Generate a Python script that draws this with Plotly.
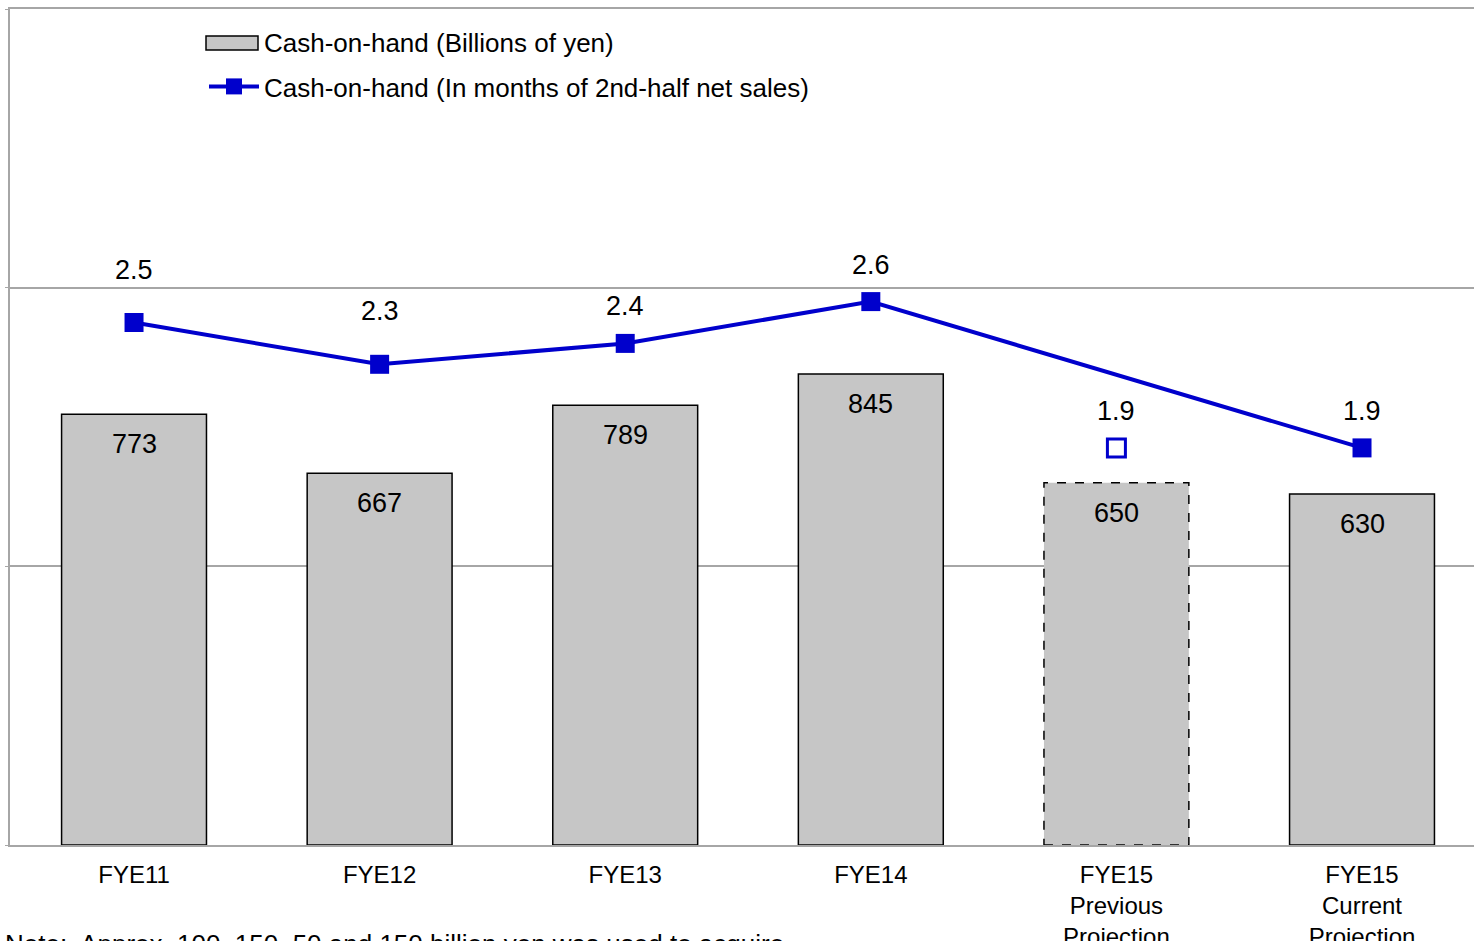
import plotly.graph_objects as go

# Categories and values
categories = ["FYE11", "FYE12", "FYE13", "FYE14",
              "FYE15<br>Previous<br>Projection", "FYE15<br>Current<br>Projection"]
cash_billion_yen = [773, 667, 789, 845, 650, 630]
cash_months = [2.5, 2.3, 2.4, 2.6, 1.9, 1.9]
projection_flags = [False, False, False, False, True, False]  # previous-projection column

# Label offsets above the line markers (px)
month_label_shift = [53, 53, 37, 37, 37, 37]

FONT = "Liberation Sans, Arial, sans-serif"
BLUE = "#0000CC"
GRID = "#A6A6A6"
BAR_FILL = "#C6C6C6"
BAR_WIDTH = 0.59

W, H = 1474, 941
M_L, M_R, M_T, M_B = 10, 0, 9, 96
plot_w = W - M_L - M_R
plot_h = H - M_T - M_B


def paper_x(px):
    return (px - M_L) / plot_w


def paper_y(px):
    return (H - M_B - px) / plot_h


fig = go.Figure()

# Bars (previous projection drawn without solid outline, dashed outline added as a shape)
bar_line_widths = [0 if f else 1.5 for f in projection_flags]
fig.add_trace(go.Bar(
    x=categories, y=cash_billion_yen, width=BAR_WIDTH,
    marker=dict(color=BAR_FILL, line=dict(color="black", width=bar_line_widths)),
    name="Cash-on-hand (Billions of yen)", showlegend=False,
    hoverinfo="skip",
))

# Legend entry for the bars (swatch drawn as a wide rectangle below)
fig.add_trace(go.Scatter(
    x=[None], y=[None], mode="markers",
    marker=dict(size=1, color="rgba(0,0,0,0)"),
    name="Cash-on-hand (Billions of yen)", legend="legend",
    hoverinfo="skip",
))

# Line: connects actuals and the current projection, skipping the previous projection
line_x = [c for c, f in zip(categories, projection_flags) if not f]
line_y = [v for v, f in zip(cash_months, projection_flags) if not f]
fig.add_trace(go.Scatter(
    x=line_x, y=line_y, yaxis="y2", mode="lines+markers",
    line=dict(color=BLUE, width=4),
    marker=dict(symbol="square", size=19, color=BLUE),
    name="Cash-on-hand (In months of 2nd-half net sales)", legend="legend2",
    hoverinfo="skip",
))

# Hollow marker for the previous projection
prev_x = [c for c, f in zip(categories, projection_flags) if f]
prev_y = [v for v, f in zip(cash_months, projection_flags) if f]
fig.add_trace(go.Scatter(
    x=prev_x, y=prev_y, yaxis="y2", mode="markers",
    marker=dict(symbol="square", size=18, color="white", line=dict(color=BLUE, width=3)),
    showlegend=False, hoverinfo="skip",
))

# Dashed outline around the previous-projection bar
for i, (v, f) in enumerate(zip(cash_billion_yen, projection_flags)):
    if f:
        fig.add_shape(type="rect", xref="x", yref="y",
                      x0=i - BAR_WIDTH / 2, x1=i + BAR_WIDTH / 2, y0=0, y1=v,
                      line=dict(color="black", width=1.5, dash="dash"),
                      fillcolor="rgba(0,0,0,0)", layer="above")

# Wide legend swatch for the bar series
fig.add_shape(type="rect", xref="paper", yref="paper",
              x0=paper_x(206), x1=paper_x(258), y0=paper_y(50), y1=paper_y(36),
              line=dict(color="black", width=1.5), fillcolor=BAR_FILL, layer="above")

annotations = []
for c, v in zip(categories, cash_billion_yen):
    annotations.append(dict(x=c, y=v, xref="x", yref="y", text=str(v), showarrow=False,
                            yshift=-30, font=dict(family=FONT, size=27, color="black")))
for c, v, s in zip(categories, cash_months, month_label_shift):
    annotations.append(dict(x=c, y=v, xref="x", yref="y2", text=f"{v:.1f}", showarrow=False,
                            yshift=s, font=dict(family=FONT, size=27, color="black")))

annotations.append(dict(
    x=paper_x(3), y=paper_y(927), xref="paper", yref="paper", xanchor="left", yanchor="top",
    text="Note:  Approx. 100, 150, 50 and 150 billion yen was used to acquire",
    showarrow=False, font=dict(family=FONT, size=26, color="black"),
))

fig.update_layout(
    width=W, height=H,
    margin=dict(l=M_L, r=M_R, t=M_T, b=M_B, pad=0),
    paper_bgcolor="white", plot_bgcolor="white",
    font=dict(family=FONT, color="black"),
    xaxis=dict(
        type="category", range=[-0.505, 5.456],
        showline=True, linecolor=GRID, linewidth=1.5, mirror=True,
        showgrid=False, ticks="", ticklabelstandoff=7,
        tickfont=dict(family=FONT, size=24, color="black"),
        automargin=False, fixedrange=True,
    ),
    yaxis=dict(
        range=[0, 1500], tickvals=[0, 500, 1000, 1500], showticklabels=False,
        showgrid=True, gridcolor=GRID, gridwidth=1.5,
        showline=True, linecolor=GRID, linewidth=1.5,
        ticks="outside", ticklen=3, tickcolor=GRID,
        zeroline=False, automargin=False, fixedrange=True,
    ),
    yaxis2=dict(
        range=[0, 4], overlaying="y", side="right", visible=False, fixedrange=True,
    ),
    legend=dict(
        x=paper_x(204), y=paper_y(18), xanchor="left", yanchor="top",
        bgcolor="rgba(0,0,0,0)", font=dict(family=FONT, size=26, color="black"),
        itemwidth=50, tracegroupgap=0,
    ),
    legend2=dict(
        x=paper_x(204), y=paper_y(63), xanchor="left", yanchor="top",
        bgcolor="rgba(0,0,0,0)", font=dict(family=FONT, size=26, color="black"),
        itemwidth=50, tracegroupgap=0,
    ),
    annotations=annotations,
    showlegend=True,
)

fig.write_html("out.html", config={"displayModeBar": False})
